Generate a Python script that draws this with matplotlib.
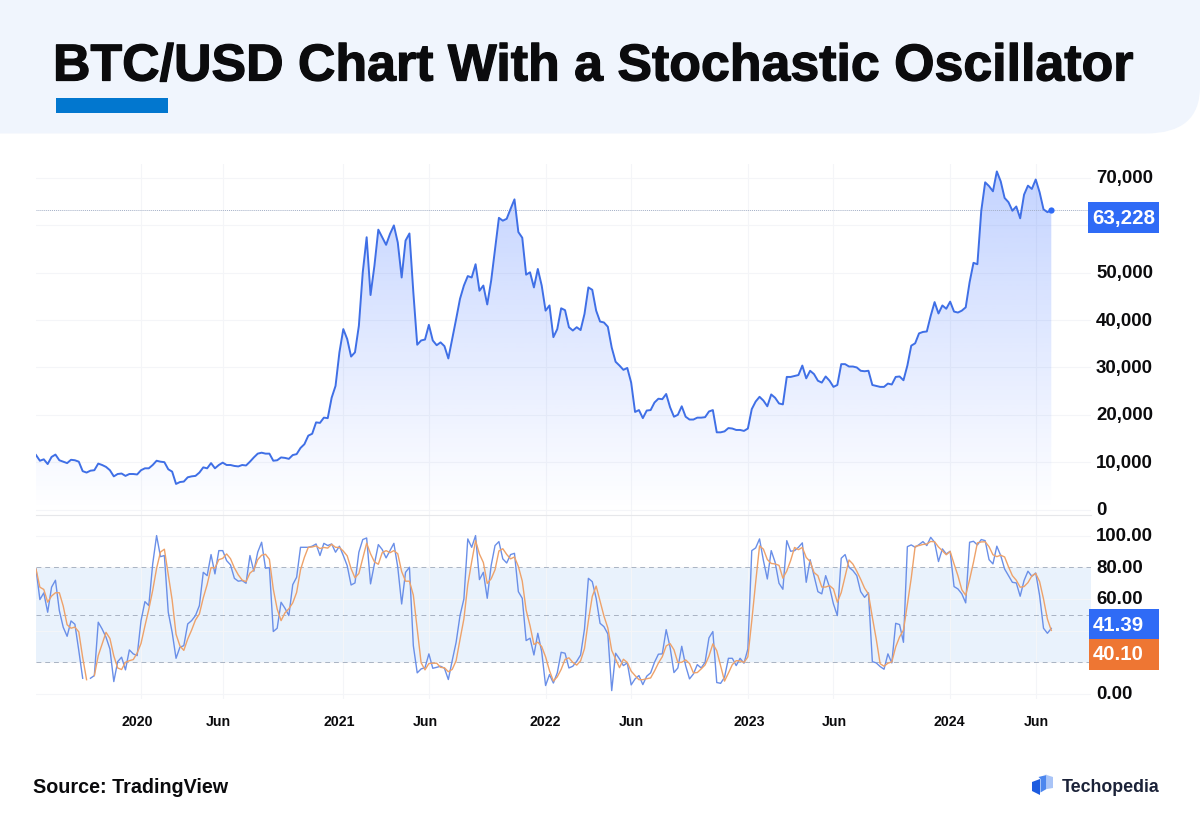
import numpy as np
import pandas as pd
import matplotlib
matplotlib.use("Agg")
import matplotlib.pyplot as plt
import matplotlib.dates as mdates
import matplotlib.patheffects as pe
from matplotlib.patches import Polygon, Rectangle, PathPatch
from matplotlib.path import Path
from matplotlib.transforms import ScaledTranslation

plt.rcParams["font.family"] = ["Liberation Sans", "DejaVu Sans"]
plt.rcParams["font.weight"] = "bold"

# weekly closes, thousands of USD
price_k = [
    11.5, 10.3, 10.6, 9.6, 11.1, 11.6, 10.4, 10.1, 9.8, 10.5,
    10.4, 10.1, 8.1, 7.8, 8.2, 8.3, 9.7, 9.4, 9.0, 8.3,
    7.0, 7.5, 7.6, 7.1, 7.5, 7.5, 7.4, 8.3, 8.7, 8.7,
    9.4, 10.3, 10.1, 10.0, 8.5, 8.0, 5.4, 5.8, 5.9, 6.8,
    7.0, 7.1, 7.8, 8.9, 8.7, 9.8, 8.7, 9.4, 9.9, 9.4,
    9.4, 9.2, 9.1, 9.4, 9.3, 10.1, 11.0, 11.8, 12.0, 11.8,
    11.8, 10.3, 10.4, 11.0, 10.9, 10.7, 11.5, 11.7, 13.0, 13.8,
    15.6, 16.0, 18.4, 18.3, 19.4, 19.3, 23.6, 26.1, 33.2, 38.1,
    36.0, 32.3, 33.2, 38.8, 50.1, 57.5, 45.3, 51.5, 59.1, 57.5,
    55.9, 58.2, 60.0, 56.4, 49.0, 56.8, 58.3, 45.9, 34.8, 35.7,
    35.9, 39.0, 35.7, 34.7, 35.3, 34.5, 31.9, 36.0, 40.2, 44.5,
    47.3, 49.3, 49.0, 51.8, 46.2, 47.3, 43.3, 48.3, 55.0, 61.6,
    61.0, 61.4, 63.5, 65.5, 58.6, 57.4, 49.6, 50.1, 46.9, 50.8,
    47.3, 42.0, 43.1, 36.4, 38.1, 42.5, 42.1, 38.5, 37.8, 38.5,
    37.9, 41.3, 46.9, 46.4, 42.0, 39.7, 39.5, 38.6, 34.2, 31.2,
    30.4, 29.5, 29.9, 26.8, 20.6, 21.0, 19.3, 20.9, 21.0, 22.6,
    23.4, 23.3, 24.4, 21.6, 19.6, 20.0, 21.8, 19.6, 19.0, 19.0,
    19.4, 19.4, 19.5, 20.7, 21.0, 16.3, 16.3, 16.5, 17.2, 17.1,
    16.8, 16.8, 16.6, 17.1, 21.2, 22.8, 23.8, 23.0, 21.8, 24.3,
    23.6, 22.4, 22.2, 28.0, 28.0, 28.2, 28.4, 30.4, 27.7, 29.3,
    28.6, 27.2, 26.8, 28.1, 27.2, 25.9, 26.3, 30.7, 30.7, 30.2,
    30.2, 30.0, 29.3, 29.2, 29.3, 26.3, 26.1, 25.9, 25.9, 26.6,
    26.4, 28.0, 28.1, 27.3, 30.4, 34.6, 35.1, 37.2, 37.5, 37.6,
    40.9, 43.8, 41.4, 43.1, 42.4, 43.9, 41.8, 41.6, 42.0, 42.7,
    48.0, 52.1, 51.8, 63.1, 69.1, 68.3, 67.2, 71.4, 69.3, 65.8,
    64.9, 63.1, 64.0, 61.5, 66.5, 68.4, 67.7, 69.7, 67.0, 63.4,
    62.8, 63.228,
]

stoch_k = [
    78.9, 59.6, 63.8, 51.6, 67.4, 71.8, 52.6, 42.1, 36.4, 46.1,
    44.0, 27.4, 9.9, np.nan, 9.9, 11.6, 45.3, 41.0, 35.8, 28.4,
    7.8, 20.4, 23.2, 15.2, 27.8, 25.3, 24.2, 46.3, 58.3, 55.8,
    82.1, 100.0, 86.7, 87.4, 51.6, 38.9, 22.5, 29.5, 30.5, 44.2,
    46.3, 49.5, 55.8, 76.8, 74.7, 88.0, 75.8, 90.5, 90.5, 84.2,
    81.5, 73.0, 71.2, 71.6, 69.9, 87.4, 77.5, 89.5, 95.8, 79.4,
    79.8, 39.4, 41.5, 57.9, 54.1, 49.5, 69.0, 73.7, 92.6, 92.6,
    92.6, 93.3, 94.7, 87.4, 95.1, 93.7, 94.7, 89.5, 93.3, 87.4,
    81.0, 68.8, 70.1, 89.5, 97.5, 98.5, 69.5, 82.1, 94.3, 91.2,
    85.9, 90.5, 95.1, 80.0, 56.8, 76.8, 80.0, 30.5, 13.3, 15.8,
    16.6, 25.3, 16.2, 16.8, 17.5, 16.2, 9.1, 21.1, 32.6, 49.5,
    60.0, 97.9, 92.6, 100.0, 72.2, 76.8, 60.4, 81.0, 93.7, 96.2,
    85.3, 82.7, 88.0, 88.8, 64.6, 60.4, 33.7, 35.2, 24.6, 38.3,
    26.7, 5.3, 12.2, 6.9, 13.3, 26.3, 25.7, 16.4, 17.5, 20.6,
    24.6, 41.0, 73.0, 70.9, 60.4, 44.6, 42.5, 37.9, 2.1, 25.7,
    22.1, 17.9, 19.6, 5.7, 9.5, 11.6, 5.9, 11.2, 13.3, 20.0,
    25.1, 25.3, 40.6, 29.5, 13.5, 16.4, 30.1, 17.9, 9.5, 12.6,
    18.5, 16.4, 20.0, 35.4, 39.4, 7.2, 6.7, 10.5, 22.5, 22.5,
    17.9, 22.5, 19.4, 28.4, 90.5, 92.2, 97.9, 84.2, 72.6, 90.5,
    83.2, 69.9, 66.1, 96.8, 90.1, 90.5, 92.6, 95.4, 70.5, 84.8,
    74.7, 64.6, 63.2, 74.7, 67.4, 56.8, 49.5, 85.7, 88.0, 80.0,
    77.9, 74.7, 64.6, 61.0, 63.8, 20.4, 19.6, 17.3, 15.6, 25.3,
    19.6, 44.6, 43.8, 32.6, 93.0, 94.1, 92.6, 94.3, 96.2, 93.7,
    98.9, 95.8, 83.6, 91.6, 88.4, 90.1, 67.8, 66.3, 63.2, 57.5,
    95.8, 96.4, 94.1, 97.5, 96.8, 84.8, 82.1, 93.3, 87.4, 78.9,
    74.7, 70.5, 70.1, 61.7, 71.6, 77.5, 74.3, 76.4, 62.1, 41.5,
    38.3, 41.39,
]

stoch_d = [
    78.9, 67.4, 66.0, 58.0, 61.8, 63.9, 63.9, 55.5, 43.7, 41.5,
    42.2, 39.2, 23.0, 9.0, np.nan, 11.6, 24.2, 31.6, 38.9, 35.0,
    24.0, 16.4, 15.4, 20.0, 21.0, 21.7, 25.8, 31.9, 42.9, 53.5,
    65.4, 79.3, 89.6, 91.4, 75.2, 59.3, 37.7, 30.3, 27.5, 34.7,
    40.3, 46.7, 50.5, 60.7, 69.1, 79.8, 79.5, 84.8, 85.6, 88.4,
    85.4, 79.6, 75.2, 71.9, 70.9, 76.3, 78.3, 84.8, 87.6, 88.2,
    85.0, 66.2, 53.6, 46.3, 51.2, 53.8, 57.5, 64.1, 78.4, 86.3,
    92.6, 92.8, 93.5, 91.8, 92.5, 92.1, 94.5, 92.6, 92.5, 90.2,
    87.2, 79.1, 73.3, 76.1, 85.7, 95.2, 88.5, 83.4, 81.9, 89.2,
    90.5, 89.2, 90.5, 88.5, 77.3, 71.2, 71.2, 62.4, 41.3, 19.7,
    15.2, 19.2, 19.4, 19.4, 16.8, 16.5, 14.0, 15.5, 21.0, 34.4,
    47.4, 69.1, 83.5, 96.8, 88.3, 83.0, 69.8, 72.7, 78.4, 90.3,
    91.7, 88.1, 85.3, 86.5, 80.5, 71.3, 52.9, 43.1, 31.2, 32.7,
    29.9, 23.4, 14.7, 8.1, 10.8, 15.5, 21.8, 22.8, 19.9, 18.2,
    20.9, 28.7, 46.2, 61.6, 68.1, 58.6, 49.2, 41.7, 27.5, 22.0,
    16.6, 21.9, 19.9, 14.4, 11.6, 9.0, 9.0, 9.6, 10.1, 14.5,
    19.5, 23.5, 30.3, 31.8, 27.9, 19.8, 20.0, 21.5, 19.2, 13.3,
    13.5, 15.8, 18.3, 23.9, 31.6, 27.3, 17.8, 8.1, 13.2, 18.5,
    21.0, 20.9, 19.9, 23.4, 46.1, 70.4, 93.5, 91.4, 84.9, 82.4,
    82.1, 81.2, 73.1, 77.6, 84.3, 92.5, 91.1, 92.5, 86.2, 83.6,
    76.7, 74.7, 67.5, 67.5, 68.4, 66.3, 57.9, 64.0, 74.4, 84.6,
    82.0, 77.5, 72.4, 66.8, 63.1, 48.4, 34.6, 19.1, 17.5, 19.4,
    20.2, 29.7, 36.0, 40.3, 56.5, 73.2, 93.2, 93.7, 94.4, 94.7,
    96.3, 96.1, 92.8, 90.4, 87.9, 90.0, 82.1, 74.7, 65.8, 62.3,
    72.2, 83.2, 95.4, 96.0, 96.1, 93.0, 87.9, 86.7, 87.6, 86.5,
    80.3, 74.7, 71.8, 67.4, 67.8, 70.3, 74.5, 76.1, 70.9, 60.0,
    47.3, 40.10,
]

tick_dates = ["2020-01-06", "2020-06-01", "2021-01-04", "2021-06-07", "2022-01-03",
              "2022-06-06", "2023-01-02", "2023-06-05", "2024-01-01", "2024-06-03"]
tick_labels = ["2020", "Jun", "2021", "Jun", "2022", "Jun", "2023", "Jun", "2024", "Jun"]

price_ticks = [0, 10, 20, 30, 40, 50, 60, 70]
price_labels = ["0", "10,000", "20,000", "30,000", "40,000", "50,000", "", "70,000"]
stoch_ticks = [0, 20, 40, 60, 80, 100]
stoch_labels = ["0.00", "", "", "60.00", "80.00", "100.00"]

W, H = 1200, 820
BLUE = "#2f6bf6"
ORANGE = "#ee7633"
GRID = "#f4f5f8"
INK = "#0b0b0d"

dates = pd.date_range("2019-07-01", periods=len(price_k), freq="7D")
x = mdates.date2num(dates)
xticks = mdates.date2num(pd.to_datetime(tick_dates))
week_px = 3.89
x_left = x[0]
x_right = x[0] + 7 * (1091 - 36) / week_px


def add_axes_px(fig, left, top, right, bottom):
    return fig.add_axes([left / W, 1 - bottom / H, (right - left) / W, (bottom - top) / H])


fig = plt.figure(figsize=(W / 100, H / 100), dpi=100, facecolor="white")

# overlay in pixel coordinates for the banner, tags and logo
over = fig.add_axes([0, 0, 1, 1], zorder=5)
over.set_xlim(0, W)
over.set_ylim(H, 0)
over.axis("off")
over.patch.set_visible(False)

banner_path = Path(
    [(0, 0), (1200, 0), (1200, 88), (1200, 134.5), (1146, 134.5), (0, 134.5), (0, 0)],
    [Path.MOVETO, Path.LINETO, Path.LINETO, Path.CURVE3, Path.CURVE3, Path.LINETO, Path.CLOSEPOLY],
)
over.add_patch(PathPatch(banner_path, fc="#f0f5fd", ec="none"))
title = over.text(53, 68, "BTC/USD Chart With a Stochastic Oscillator", fontsize=37.35,
                  color=INK, va="center", ha="left")
title.set_path_effects([pe.withStroke(linewidth=0.9, foreground=INK)])
over.add_patch(Rectangle((56, 99), 112, 14.5, fc="#0277cf", ec="none"))

# price panel
ax = add_axes_px(fig, 36, 165, 1091, 516)
ax.set_xlim(x_left, x_right)
ax.set_ylim(-1.16, 72.97)
fill_xy = np.column_stack([np.r_[x, x[-1], x[0]], np.r_[price_k, -1.16, -1.16]])
clip = Polygon(fill_xy, closed=True, fc="none", ec="none", transform=ax.transData)
ax.add_patch(clip)
rows = 256
grad = np.zeros((rows, 1, 4))
grad[:, 0, :3] = matplotlib.colors.to_rgb("#2962ff")
grad[:, 0, 3] = np.linspace(0.28, 0.0, rows)
im = ax.imshow(grad, extent=[x[0], x[-1], 0, 72], aspect="auto", origin="upper", zorder=1)
im.set_clip_path(clip)
ax.set_xlim(x_left, x_right)
ax.set_ylim(-1.16, 72.97)
ax.axhline(price_k[-1], color="#a3afc6", lw=0.7, ls=(0, (1, 1)), zorder=2)
ax.plot(x, price_k, color="#3f6fe6", lw=1.4, zorder=3, solid_joinstyle="round")
ax.plot(x[-1], price_k[-1], "o", color=BLUE, ms=4.5, mec="none", zorder=4)

# stochastic panel
ax2 = add_axes_px(fig, 36, 516, 1091, 700)
ax2.set_xlim(x_left, x_right)
ax2.set_ylim(-3.2, 113)
ax2.axhspan(20, 80, color="#e9f2fc", lw=0, zorder=0)
for level in (20, 50, 80):
    ax2.axhline(level, color="#a9b3c3", lw=0.7, ls=(0, (5, 4)), zorder=2)
ax2.plot(x, stoch_k, color="#6a8fe8", lw=1.0, zorder=3)
ax2.plot(x, stoch_d, color="#eea26a", lw=1.0, zorder=4)

label_up = ScaledTranslation(0, 1.5 / 72, fig.dpi_scale_trans)
for a, ticks, labels in ((ax, price_ticks, price_labels), (ax2, stoch_ticks, stoch_labels)):
    a.set_yticks(ticks)
    a.set_yticklabels(labels, fontsize=13.4, color=INK)
    a.yaxis.tick_right()
    a.set_xticks(xticks)
    a.grid(True, color=GRID, lw=0.8, zorder=0)
    a.set_axisbelow(True)
    a.tick_params(length=0)
    a.tick_params(axis="y", pad=3.6)
    a.patch.set_visible(False)
    for s in a.spines.values():
        s.set_visible(False)
    for lab in a.get_yticklabels():
        lab.set_transform(lab.get_transform() + label_up)
ax.set_xticklabels([])
ax2.set_xticklabels(tick_labels, fontsize=10.2, color=INK)
ax2.tick_params(axis="x", pad=11)
# the first labels sit a little left of their gridlines in the original
label_nudge_px = [-4, -4, -4, -4, 0, 0, 1, 1, -1, 1]
for lab, nudge in zip(ax2.get_xticklabels(), label_nudge_px):
    lab.set_transform(lab.get_transform() + ScaledTranslation(nudge / 100, 0, fig.dpi_scale_trans))
ax2.spines["top"].set_visible(True)
ax2.spines["top"].set_color("#e6e7ea")
ax2.spines["top"].set_linewidth(0.8)

# last-value tags
over.add_patch(Rectangle((1088, 202.5), 71, 31, fc=BLUE, ec="none"))
over.text(1092, 218.5, f"{price_k[-1] * 1000:,.0f}", color="white", fontsize=14.8, va="center", ha="left")
over.add_patch(Rectangle((1089, 610), 70, 29.5, fc=BLUE, ec="none"))
over.text(1093, 626, f"{stoch_k[-1]:.2f}", color="white", fontsize=14.7, va="center", ha="left")
over.add_patch(Rectangle((1089, 639.5), 70, 31.5, fc=ORANGE, ec="none"))
over.text(1093, 655, f"{stoch_d[-1]:.2f}", color="white", fontsize=14.7, va="center", ha="left")

# footer
over.text(33, 788, "Source: TradingView", fontsize=14.2, color=INK, va="center", ha="left")
over.add_patch(Polygon([(1032, 783), (1040, 780), (1040, 796), (1032, 792)], fc="#1d5ce0", ec="none"))
over.add_patch(Polygon([(1038.5, 778), (1046.5, 776), (1046.5, 790), (1040.5, 793.5), (1040.5, 780)],
                       fc="#4c86ee", ec="none"))
over.add_patch(Polygon([(1043.5, 775), (1053, 778), (1053, 789), (1047, 790), (1047, 775.8)],
                       fc="#a9c4f7", ec="none"))
over.text(1062, 787.5, "Techopedia", fontsize=12.8, color="#1b2238", va="center", ha="left")

fig.savefig("out.png", dpi=100)
